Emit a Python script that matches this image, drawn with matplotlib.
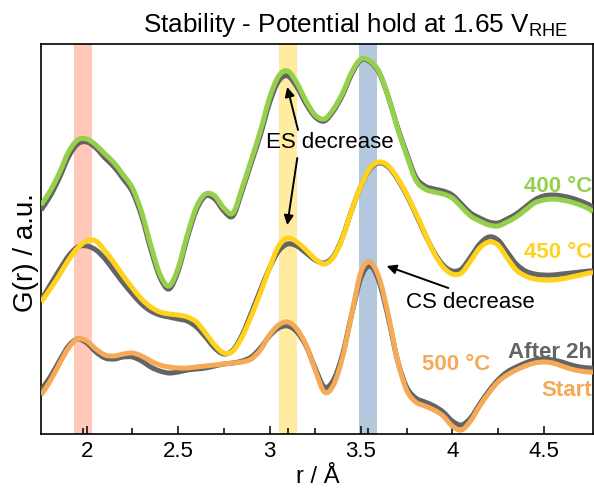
import matplotlib
matplotlib.use("Agg")
import matplotlib.pyplot as plt
import numpy as np
from matplotlib.patches import PathPatch
from matplotlib.path import Path

plt.rcParams["font.family"] = ["Liberation Sans", "DejaVu Sans"]
plt.rcParams["mathtext.fontset"] = "custom"
plt.rcParams["mathtext.rm"] = "Liberation Sans"

# r grid (Å) and G(r) readings (a.u.) for each sample
r = [1.75, 1.80, 1.85, 1.90, 1.95, 2.00, 2.05, 2.10, 2.15, 2.20, 2.25, 2.30,
     2.35, 2.40, 2.45, 2.50, 2.55, 2.60, 2.65, 2.70, 2.75, 2.80, 2.85, 2.90,
     2.95, 3.00, 3.05, 3.10, 3.15, 3.20, 3.25, 3.30, 3.35, 3.40, 3.45, 3.50,
     3.55, 3.60, 3.65, 3.70, 3.75, 3.80, 3.85, 3.90, 3.95, 4.00, 4.05, 4.10,
     4.15, 4.20, 4.25, 4.30, 4.35, 4.40, 4.45, 4.50, 4.55, 4.60, 4.65, 4.70,
     4.75, 4.77]

g400_start = [229, 243, 261, 282, 294, 295, 289, 280, 271, 259, 246, 222,
              189, 160, 148, 166, 199, 227, 240, 238, 226, 221, 246, 274,
              303, 336, 358, 363, 351, 333, 319, 315, 325, 341, 362, 375,
              373, 362, 337, 306, 279, 254, 245, 242, 240, 236, 227, 218,
              213, 209, 208, 212, 217, 224, 231, 234, 235, 234, 232, 229,
              225, 222]
g400_after = [224, 238, 256, 277, 290, 292, 286, 276, 267, 255, 242, 218,
              185, 157, 145, 163, 196, 224, 238, 235, 223, 218, 243, 271,
              299, 331, 353, 358, 347, 330, 317, 313, 323, 339, 360, 374,
              372, 361, 337, 307, 281, 257, 248, 245, 243, 239, 230, 221,
              216, 212, 211, 215, 220, 227, 234, 238, 239, 238, 236, 233,
              229, 226]

g450_start = [132, 145, 159, 174, 186, 193, 193, 183, 171, 158, 146, 135,
              127, 122, 120, 119, 117, 112, 101, 89, 81, 83, 97, 118,
              141, 166, 188, 196, 192, 184, 175, 170, 177, 196, 224, 248,
              266, 272, 268, 256, 240, 221, 201, 181, 167, 160, 161, 173,
              186, 192, 189, 176, 164, 158, 155, 154, 154, 155, 157, 159,
              161, 161]
g450_after = [134, 149, 164, 178, 187, 188, 184, 175, 163, 151, 140, 130,
              123, 119, 117, 115, 113, 107, 97, 86, 80, 84, 99, 121,
              144, 166, 183, 190, 188, 181, 174, 171, 178, 197, 224, 248,
              265, 271, 267, 255, 239, 220, 200, 182, 169, 163, 165, 177,
              190, 197, 194, 182, 170, 163, 160, 159, 159, 160, 161, 162,
              163, 163]

g500_start = [39, 53, 70, 86, 95, 93, 85, 79, 78, 80, 81, 78,
              73, 69, 67, 66, 66, 67, 68, 69, 70, 71, 72, 75,
              84, 99, 109, 112, 105, 89, 64, 42, 49, 77, 120, 162,
              172, 156, 119, 74, 44, 32, 28, 24, 18, 8, 4, 13,
              28, 41, 52, 59, 64, 68, 71, 72, 71, 68, 65, 63,
              62, 62]
g500_after = [44, 57, 73, 88, 95, 91, 82, 76, 75, 77, 77, 73,
              67, 63, 61, 62, 64, 65, 66, 68, 70, 71, 73, 77,
              86, 98, 106, 108, 102, 88, 66, 47, 54, 80, 120, 156,
              168, 152, 116, 74, 47, 36, 32, 28, 22, 13, 9, 16,
              30, 43, 54, 62, 67, 71, 74, 75, 74, 72, 69, 67,
              66, 66]

bands = [(1.93, 2.03), (3.05, 3.15), (3.49, 3.59)]
band_colors = ["#ffc8b9", "#ffeca0", "#b3c8dc"]
band_ticks = [1.98, 3.10, 3.54]

GRAY = "#646464"
GREEN = "#95cf4c"
YELLOW = "#ffd21c"
ORANGE = "#f6a957"


def smooth_path(x, y):
    """Catmull-Rom curve through the points, as a cubic Bezier path."""
    pts = np.column_stack([x, y]).astype(float)
    n = len(pts)
    verts = [pts[0]]
    codes = [Path.MOVETO]
    for i in range(n - 1):
        p0 = pts[max(i - 1, 0)]
        p1 = pts[i]
        p2 = pts[i + 1]
        p3 = pts[min(i + 2, n - 1)]
        verts += [p1 + (p2 - p0) / 6, p2 - (p3 - p1) / 6, p2]
        codes += [Path.CURVE4] * 3
    return Path(verts, codes)


def draw_curve(ax, y, color, lw=3.6):
    ax.add_patch(PathPatch(smooth_path(r, y), fill=False, edgecolor=color,
                           lw=lw, capstyle="butt", joinstyle="round", zorder=3))


fig = plt.figure(figsize=(5.94, 4.88), dpi=100)
ax = fig.add_axes([40.7 / 594, 54 / 488, 552.3 / 594, 390 / 488])

for (lo, hi), c in zip(bands, band_colors):
    ax.axvspan(lo, hi, color=c, lw=0, zorder=1)

draw_curve(ax, g500_after, GRAY)
draw_curve(ax, g500_start, ORANGE)
draw_curve(ax, g450_after, GRAY)
draw_curve(ax, g450_start, YELLOW)
draw_curve(ax, g400_after, GRAY)
draw_curve(ax, g400_start, GREEN)

ax.set_xlim(1.748, 4.770)
ax.set_ylim(0, 390)
ax.set_yticks([])
ax.set_xticks([2, 2.5, 3, 3.5, 4, 4.5])
ax.set_xticklabels(["2", "2.5", "3", "3.5", "4", "4.5"])
ax.set_xticks([2.25, 2.75, 3.25, 3.75, 4.25] + band_ticks, minor=True)
ax.tick_params(axis="x", which="major", direction="in", length=5.5, width=1.1,
               labelsize=16, pad=5)
ax.tick_params(axis="x", which="minor", direction="in", length=4, width=1.1)
for s in ax.spines.values():
    s.set_linewidth(1.2)

arrow = dict(arrowstyle="-|>", color="black", lw=1.4, mutation_scale=14,
             shrinkA=0, shrinkB=0)
ax.annotate("", xy=(3.097, 347), xytext=(3.156, 304), arrowprops=arrow, zorder=5)
ax.annotate("", xy=(3.097, 209), xytext=(3.152, 276), arrowprops=arrow, zorder=5)
ax.annotate("", xy=(3.641, 168), xytext=(3.978, 146), arrowprops=arrow, zorder=5)
ax.text(3.331, 291, "ES decrease", fontsize=16, ha="center", va="center", zorder=6)
ax.text(4.097, 131, "CS decrease", fontsize=16, ha="center", va="center", zorder=6)

lab = dict(fontsize=16, fontweight="bold", va="center", zorder=6)
ax.text(4.764, 248, "400 °C", color=GREEN, ha="right", **lab)
ax.text(4.764, 181, "450 °C", color=YELLOW, ha="right", **lab)
ax.text(4.764, 81, "After 2h", color=GRAY, ha="right", **lab)
ax.text(4.764, 44, "Start", color=ORANGE, ha="right", **lab)
ax.text(4.02, 69, "500 °C", color=ORANGE, ha="center", **lab)

fig.text(143 / 594, 1 - 32 / 488, r"Stability - Potential hold at 1.65 V$_{\rm RHE}$",
         fontsize=18.8, ha="left", va="baseline")
fig.text(318 / 594, 1 - 477 / 488, "r / Å", fontsize=17, ha="center", va="center")
fig.text(26 / 594, 1 - 253 / 488, "G(r) / a.u.", fontsize=20, rotation=90,
         ha="center", va="center")

fig.savefig("out.png", dpi=100)
